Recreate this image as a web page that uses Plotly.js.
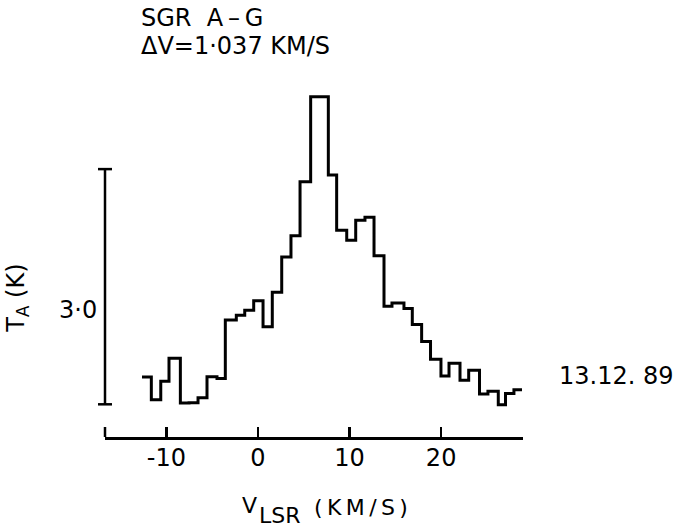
<!DOCTYPE html>
<html>
<head>
<meta charset="utf-8">
<script src="https://cdn.plot.ly/plotly-3.0.1.min.js"></script>
<style>html,body{margin:0;padding:0;background:#fff;}#chart{width:676px;height:527px;}</style>
</head>
<body>
<div id="chart"></div>
<script>
// Channel edges (km/s)
const channelEdges = [-12.67, -11.65, -10.62, -9.72, -8.48, -7.53, -6.55, -5.57, -4.48, -3.57,
  -2.37, -1.45, -0.47, 0.55, 1.56, 2.59, 3.60, 4.59, 5.75, 6.72,
  7.68, 8.59, 9.69, 10.67, 11.68, 12.67, 13.76, 14.63, 15.94, 16.85,
  17.87, 18.84, 19.98, 20.86, 22.06, 23.01, 24.19, 25.11, 26.24, 27.03,
  27.95, 28.83];
// Antenna temperature per channel (K)
const tempK = [0.349, 0.057, 0.294, 0.587, 0.017, 0.019, 0.083, 0.351, 0.328, 1.076,
  1.136, 1.200, 1.321, 0.989, 1.430, 1.880, 2.151, 2.838, 3.923, 3.923,
  2.924, 2.221, 2.094, 2.349, 2.387, 1.896, 1.251, 1.293, 1.222, 1.017,
  0.802, 0.574, 0.361, 0.523, 0.306, 0.434, 0.131, 0.166, -0.006, 0.137,
  0.185];
const xTicks = [-10, 0, 10, 20];
const xTickLabels = ['-10', '0', '10', '20'];
const scaleBar = [0, 3.0];

const FONT = 'DejaVu Sans, sans-serif';
const TS = '\u2009';

const trace = {
  x: channelEdges,
  y: tempK.concat([tempK[tempK.length - 1]]),
  mode: 'lines',
  line: {shape: 'hv', color: '#000', width: 3},
  hoverinfo: 'skip'
};

function ann(text, x, y, xanchor, size, extra) {
  return Object.assign({text: text, xref: 'paper', yref: 'paper', x: x, y: y,
    xanchor: xanchor, yanchor: 'middle', showarrow: false,
    font: {family: FONT, size: size, color: '#000'}}, extra || {});
}

const layout = {
  width: 676, height: 527,
  margin: {l: 105, r: 153, t: 90, b: 90.3},
  paper_bgcolor: '#fff', plot_bgcolor: '#fff',
  showlegend: false,
  xaxis: {
    range: [-16.71, 28.94],
    showgrid: false, zeroline: false,
    showline: true, linecolor: '#000', linewidth: 2.5,
    ticks: 'inside', ticklen: 10, tickwidth: 2.5, tickcolor: '#000',
    tickvals: xTicks, ticktext: xTickLabels,
    tickfont: {family: FONT, size: 24, color: '#000'},
    ticklabelstandoff: -2
  },
  yaxis: {
    range: [-0.417, 4.009],
    visible: false
  },
  shapes: [
    {type: 'line', xref: 'paper', yref: 'y', x0: 0, x1: 0, y0: scaleBar[0], y1: scaleBar[1], line: {color: '#000', width: 2.5}},
    {type: 'line', xref: 'paper', yref: 'y', x0: -0.0167, x1: 0.0167, y0: scaleBar[0], y1: scaleBar[0], line: {color: '#000', width: 2.5}},
    {type: 'line', xref: 'paper', yref: 'y', x0: -0.0167, x1: 0.0167, y0: scaleBar[1], y1: scaleBar[1], line: {color: '#000', width: 2.5}},
    {type: 'line', xref: 'paper', yref: 'paper', x0: 0, x1: 0, y0: 0, y1: 0.0288, line: {color: '#000', width: 2.5}}
  ],
  annotations: [
    ann('SGR  A' + TS + '–' + TS + 'G', 0.0813, 1.2062, 'left', 24),
    ann('ΔV=1·037 KM/S', 0.0813, 1.1255, 'left', 24),
    ann('3·0', -0.01435, 0.3654, 'right', 24),
    ann('T<sub>A</sub> (K)', -0.2093, 0.400, 'center', 24, {textangle: -90}),
    ann('V', 0.323, -0.1984, 'left', 22),
    ann('LSR', 0.3636, -0.2273, 'left', 22),
    ann('(' + TS + 'K' + TS + 'M' + TS + '/' + TS + 'S' + TS + ')', 0.4952, -0.2028, 'left', 22),
    ann('13.12. 89', 1.0813, 0.175, 'left', 24)
  ]
};

Plotly.newPlot('chart', [trace], layout, {displayModeBar: false, staticPlot: true});
</script>
</body>
</html>
